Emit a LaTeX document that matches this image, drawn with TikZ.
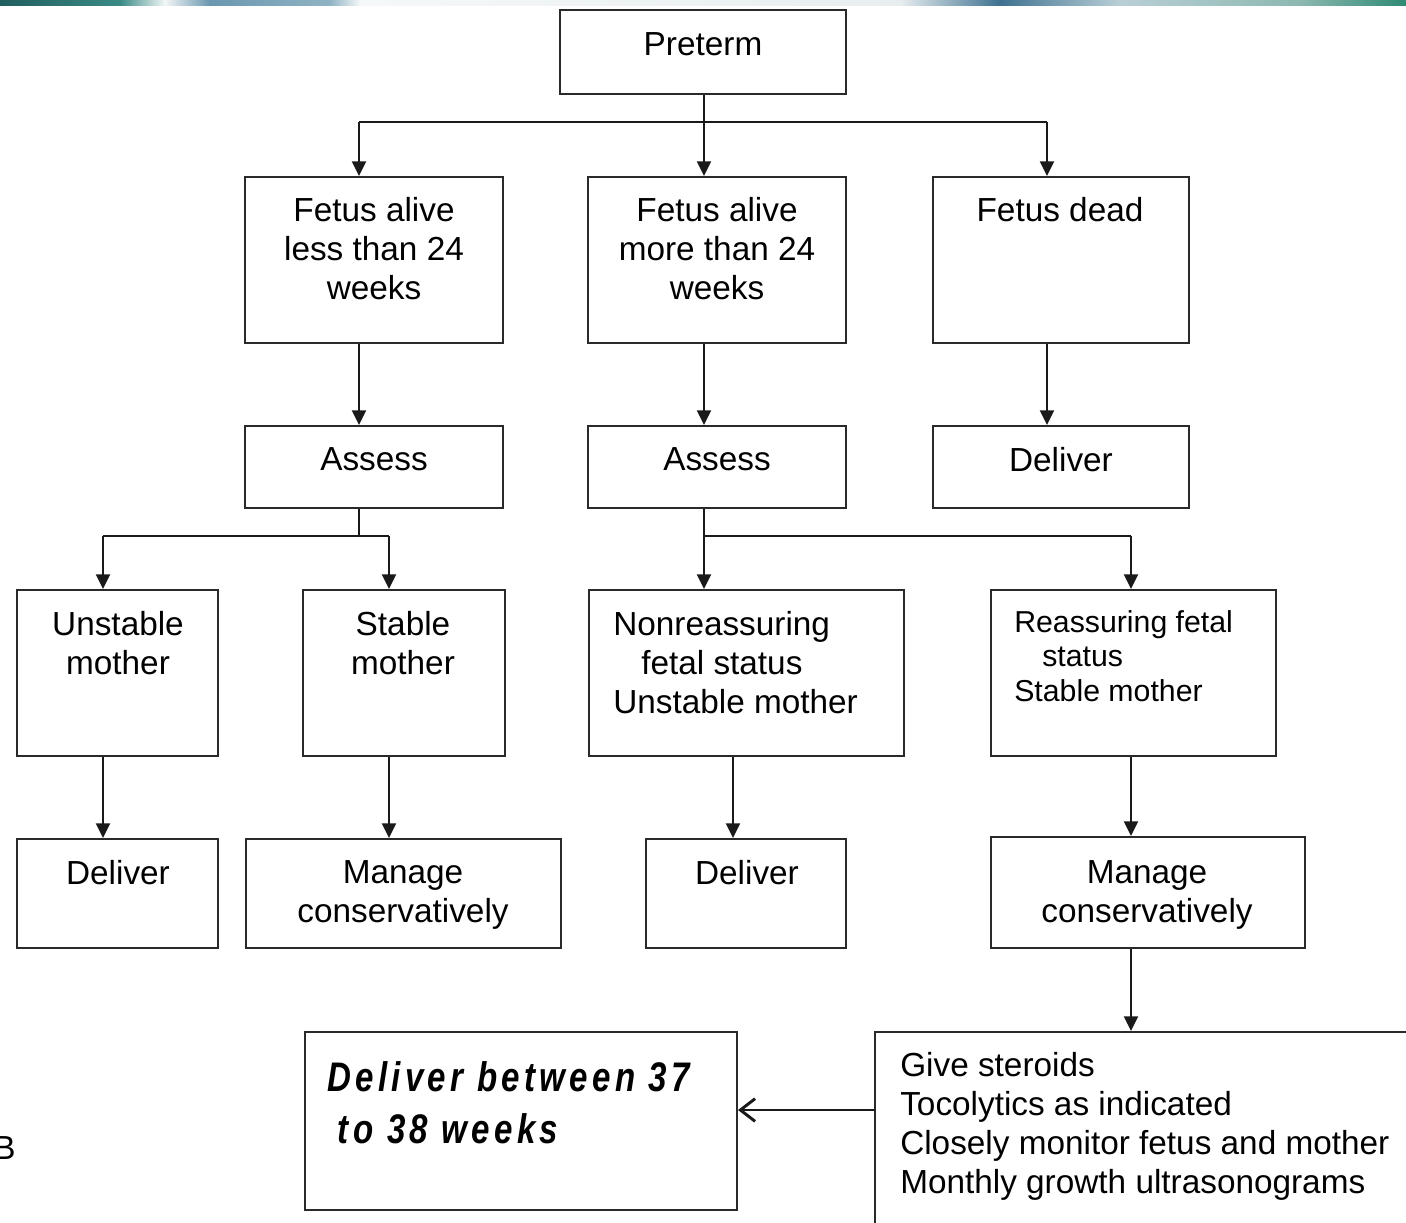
\documentclass[tikz,border=0pt]{standalone}
\usepackage{fontspec}
\setmainfont{Liberation Sans}
\newfontfamily\dbfont[LetterSpace=10.5,FakeStretch=0.8]{Liberation Sans}
\usetikzlibrary{arrows.meta,fit,calc}
\definecolor{boxc}{HTML}{2A2A2A}
\definecolor{linec}{HTML}{1A1A1A}
\begin{document}
\begin{tikzpicture}[x=0.75pt,y=-0.75pt,
  box/.style={draw=boxc, line width=1.5pt, inner sep=0pt},
  txt/.style={inner sep=0pt, font=\fontsize{25}{29.3}\selectfont, align=center, text=black},
  txtl/.style={txt, align=left},
  stxt/.style={inner sep=0pt, font=\fontsize{22.7}{26}\selectfont, align=left, text=black},
  bitxt/.style={inner sep=0pt, font=\dbfont\bfseries\itshape\fontsize{31}{39}\selectfont, align=left, text=black},
  ln/.style={draw=linec, line width=1.5pt},
  arr/.style={ln, -{Triangle[length=11pt,width=10.5pt]}},
  oarr/.style={ln, -{Straight Barb[length=11pt,width=17pt,line width=2.2pt]}}]
\useasboundingbox (0,0) rectangle (1406,1222);
\fill[white] (0,0) rectangle (1406,1222);
% top decorative bar
\shade[left color={rgb,255:red,32;green,94;blue,94}, right color={rgb,255:red,58;green,138;blue,134}] (0,0) rectangle (120,5);
\shade[left color={rgb,255:red,58;green,138;blue,134}, right color={rgb,255:red,242;green,246;blue,246}] (120,0) rectangle (165,5);
\shade[left color={rgb,255:red,242;green,246;blue,246}, right color={rgb,255:red,106;green,151;blue,176}] (165,0) rectangle (210,5);
\shade[left color={rgb,255:red,106;green,151;blue,176}, right color={rgb,255:red,143;green,179;blue,195}] (210,0) rectangle (330,5);
\shade[left color={rgb,255:red,143;green,179;blue,195}, right color={rgb,255:red,245;green,248;blue,248}] (330,0) rectangle (360,5);
\shade[left color={rgb,255:red,245;green,248;blue,248}, right color={rgb,255:red,232;green,238;blue,240}] (360,0) rectangle (900,5);
\shade[left color={rgb,255:red,232;green,238;blue,240}, right color={rgb,255:red,62;green,113;blue,144}] (900,0) rectangle (1000,5);
\shade[left color={rgb,255:red,62;green,113;blue,144}, right color={rgb,255:red,185;green,207;blue,214}] (1000,0) rectangle (1120,5);
\shade[left color={rgb,255:red,185;green,207;blue,214}, right color={rgb,255:red,140;green,184;blue,176}] (1120,0) rectangle (1300,5);
\shade[left color={rgb,255:red,140;green,184;blue,176}, right color={rgb,255:red,46;green,138;blue,115}] (1300,0) rectangle (1406,5);

% boxes
\node[box, fit={(560,10) (846,94)}] (pre) {};
\node[box, fit={(245,177) (503,343)}] (fless) {};
\node[box, fit={(588,177) (846,343)}] (fmore) {};
\node[box, fit={(933,177) (1189,343)}] (fdead) {};
\node[box, fit={(245,426) (503,508)}] (as1) {};
\node[box, fit={(588,426) (846,508)}] (as2) {};
\node[box, fit={(933,426) (1189,508)}] (del0) {};
\node[box, fit={(17,590) (218,756)}] (unst) {};
\node[box, fit={(303,590) (505,756)}] (stab) {};
\node[box, fit={(589,590) (904,756)}] (nonr) {};
\node[box, fit={(991,590) (1276,756)}] (reas) {};
\node[box, fit={(17,839) (218,948)}] (del1) {};
\node[box, fit={(246,839) (561,948)}] (man1) {};
\node[box, fit={(646,839) (846,948)}] (del2) {};
\node[box, fit={(991,837) (1305,948)}] (man2) {};
\node[box, fit={(875,1032) (1420,1240)}] (ster) {};
\node[box, fit={(305,1032) (737,1210)}] (dbw) {};

% texts
\node[txt, anchor=north] (tpre) at (703,32) {Preterm};
\node[txt, anchor=north] (tfless) at (374,197) {Fetus alive\\less than 24\\weeks};
\node[txt, anchor=north] (tfmore) at (717,197) {Fetus alive\\more than 24\\weeks};
\node[txt, anchor=north] (tfdead) at (1060,197) {Fetus dead};
\node[txt, anchor=north] (tas1) at (374,447) {Assess};
\node[txt, anchor=north] (tas2) at (717,447) {Assess};
\node[txt, anchor=north] (tdel0) at (1061,447) {Deliver};
\node[txt, anchor=north] (tunst) at (118,611) {Unstable\\mother};
\node[txt, anchor=north] (tstab) at (403,611) {Stable\\mother};
\node[txtl, anchor=north west] (tnonr) at (613,611) {Nonreassuring\\\hspace*{21pt}fetal status\\Unstable mother};
\node[stxt, anchor=north west] (treas) at (1014,610) {Reassuring fetal\\\hspace*{21pt}status\\Stable mother};
\node[txt, anchor=north] (tdel1) at (118,860) {Deliver};
\node[txt, anchor=north] (tman1) at (403,860) {Manage\\conservatively};
\node[txt, anchor=north] (tdel2) at (747,860) {Deliver};
\node[txt, anchor=north] (tman2) at (1147,860) {Manage\\conservatively};
\node[txtl, anchor=north west] (tster) at (900,1052) {Give steroids\\Tocolytics as indicated\\Closely monitor fetus and mother\\Monthly growth ultrasonograms};
\node[bitxt, anchor=north west] (tdbw) at (327,1061) {Deliver between 37\\\hspace*{8pt}to 38 weeks};
\node[txt, anchor=north east] (tB) at (16,1136) {B};

% connectors
\coordinate (jC) at (704,122);
\coordinate (jL) at (359,122);
\coordinate (jR) at (1047,122);
\draw[ln] (jL) -- (jR);
\draw[arr] (pre.south -| jC) -- (jC |- fmore.north);
\draw[arr] (jL) -- (jL |- fless.north);
\draw[arr] (jR) -- (jR |- fdead.north);
\draw[arr] (jL |- fless.south) -- (jL |- as1.north);
\draw[arr] (jC |- fmore.south) -- (jC |- as2.north);
\draw[arr] (jR |- fdead.south) -- (jR |- del0.north);

\coordinate (kL) at (103,536);
\coordinate (kA) at (389,536);
\draw[ln] (jL |- as1.south) -- (jL |- kL);
\draw[ln] (kL) -- (kA);
\draw[arr] (kL) -- (kL |- unst.north);
\draw[arr] (kA) -- (kA |- stab.north);

\coordinate (kC) at (704,536);
\coordinate (kD) at (1131,536);
\draw[ln] (jC |- as2.south) -- (kC) -- (kD);
\draw[arr] (kC) -- (kC |- nonr.north);
\draw[arr] (kD) -- (kD |- reas.north);

\coordinate (kE) at (733,756);
\draw[arr] (kL |- unst.south) -- (kL |- del1.north);
\draw[arr] (kA |- stab.south) -- (kA |- man1.north);
\draw[arr] (kE |- nonr.south) -- (kE |- del2.north);
\draw[arr] (kD |- reas.south) -- (kD |- man2.north);
\draw[arr] (kD |- man2.south) -- (kD |- ster.north);

\coordinate (sA) at (875,1110);
\draw[oarr] (sA) -- (sA -| dbw.east);
\end{tikzpicture}
\end{document}
